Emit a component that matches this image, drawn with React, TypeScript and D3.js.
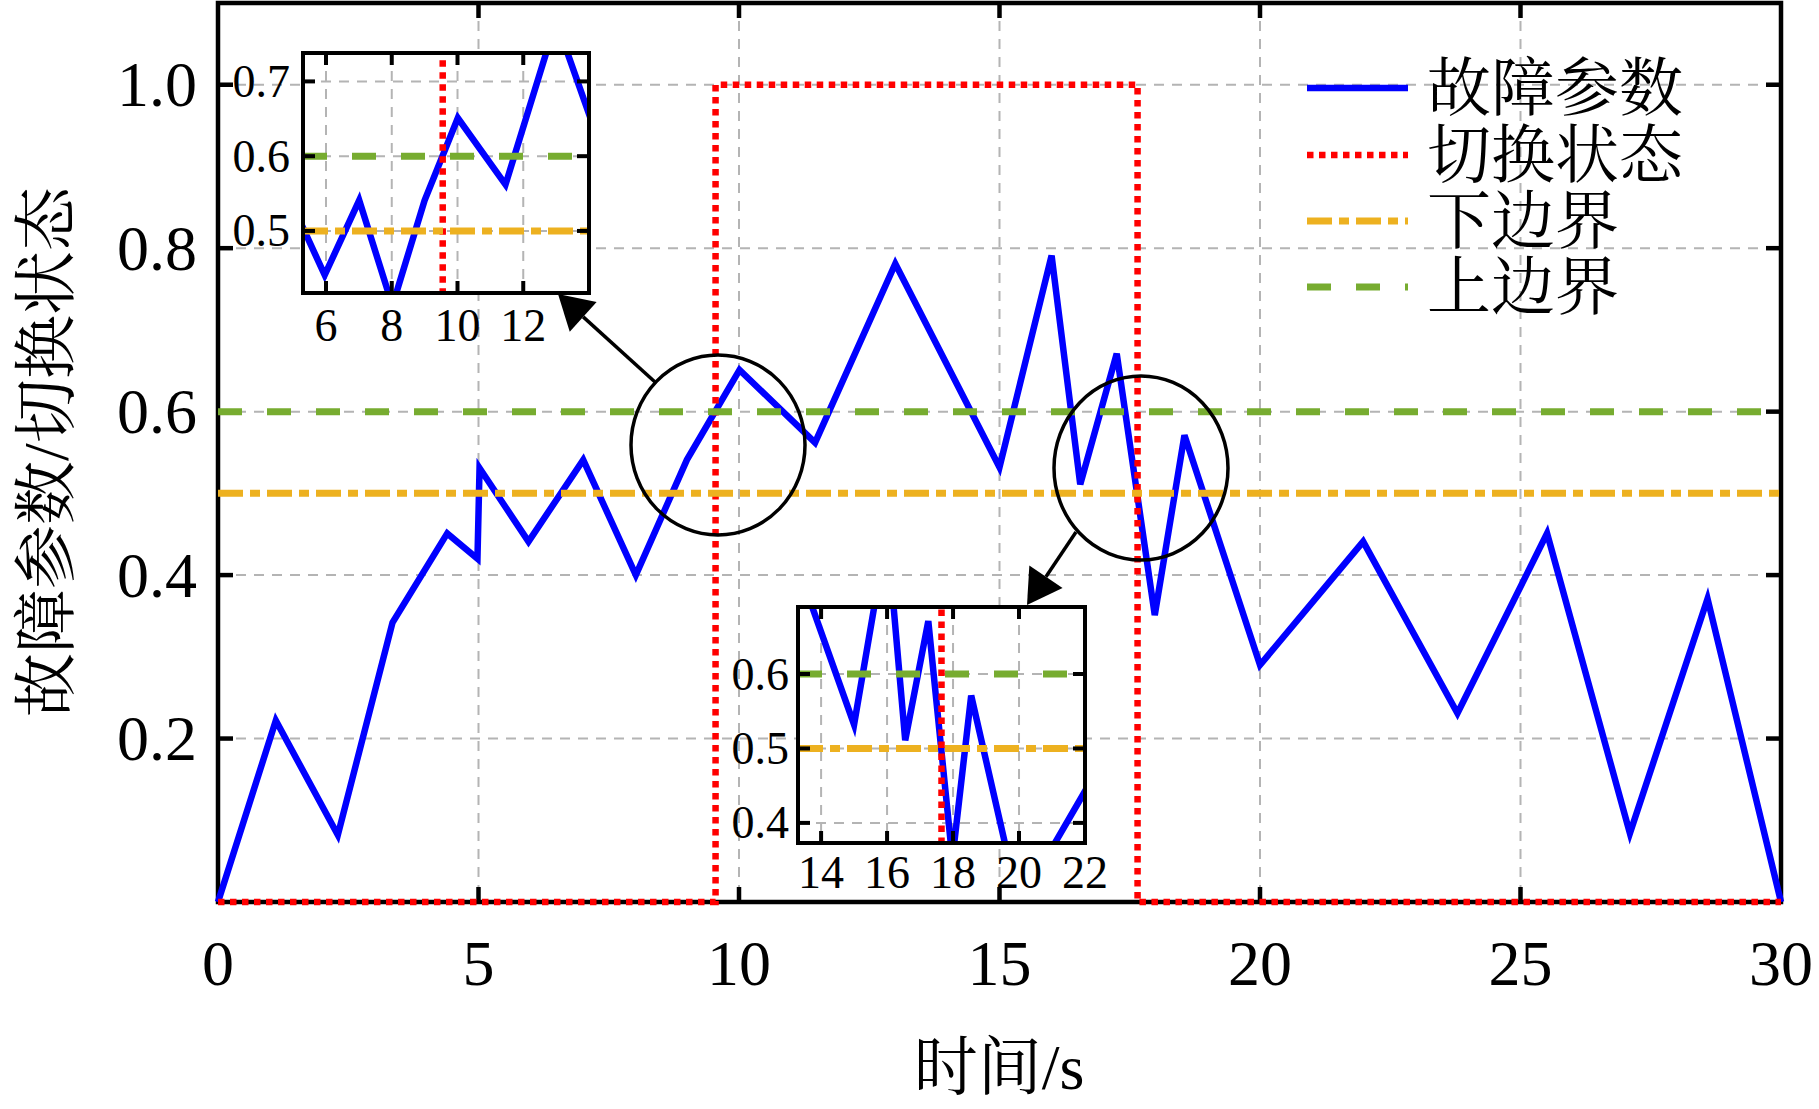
import * as d3 from "d3";

// fault parameter series (time in s, value)
const timeS = [0, 1.11, 2.3, 3.35, 4.4, 4.98, 5.02, 5.96, 7.01, 8.02, 9.0, 10.01, 11.46, 13.0, 15.0, 16.0, 16.55, 17.25, 17.98, 18.55, 20.0, 21.98, 23.79, 25.51, 27.1, 28.59, 30];
const faultParam = [0, 0.222, 0.082, 0.342, 0.451, 0.42, 0.531, 0.441, 0.541, 0.4, 0.541, 0.651, 0.562, 0.781, 0.532, 0.791, 0.511, 0.671, 0.351, 0.571, 0.29, 0.441, 0.231, 0.451, 0.084, 0.371, 0];

// switching state (step signal)
const switchTime = [0, 9.55, 9.55, 17.65, 17.65, 30];
const switchState = [0, 0, 1, 1, 0, 0];

const lowerBound = 0.5;
const upperBound = 0.6;

const xTicks = [0, 5, 10, 15, 20, 25, 30];
const yTicks = [0.2, 0.4, 0.6, 0.8, 1.0];
const inset1XTicks = [6, 8, 10, 12];
const inset1YTicks = [0.5, 0.6, 0.7];
const inset2XTicks = [14, 16, 18, 20, 22];
const inset2YTicks = [0.4, 0.5, 0.6];

const legendLabels = ["故障参数", "切换状态", "下边界", "上边界"];
const xTitle = "时间/s";
const yTitle = "故障参数/切换状态";

const W = 1819;
const H = 1109;
const FONT = '"Liberation Serif", "Times New Roman", "Noto Serif CJK SC", "Noto Sans CJK SC", serif';

const BLUE = "#0000ff";
const RED = "#ff0000";
const ORANGE = "#edb120";
const GREEN = "#77ac30";
const GRID = "#b4b4b4";

const RED_DASH = "6.5 5.5";
const ORANGE_DASH = "25 7 10 7";
const GREEN_DASH = "24 25";

const faultPts = timeS.map((t, i) => [t, faultParam[i]] as [number, number]);
const switchPts = switchTime.map((t, i) => [t, switchState[i]] as [number, number]);

type PanelProps = {
  id: string;
  left: number; right: number; top: number; bottom: number;
  xDomain: [number, number]; yDomain: [number, number];
  xTicks: number[]; yTicks: number[];
  yFmt: (v: number) => string;
  fontSize: number; tickLen: number; frame: number;
  xLabelY: number; yLabelX: number;
  inset?: boolean;
};

function Panel(p: PanelProps) {
  const x = d3.scaleLinear().domain(p.xDomain).range([p.left, p.right]);
  const y = d3.scaleLinear().domain(p.yDomain).range([p.bottom, p.top]);
  const line = d3.line<[number, number]>().x(d => x(d[0])).y(d => y(d[1]));
  const pad = p.inset ? 0 : 4;
  const innerX = p.xTicks.filter(v => x(v) > p.left + 2 && x(v) < p.right - 2);
  const innerY = p.yTicks.filter(v => y(v) < p.bottom - 2 && y(v) > p.top + 2);

  const frame = (
    <g>
      <rect x={p.left} y={p.top} width={p.right - p.left} height={p.bottom - p.top}
        fill="none" stroke="#000" strokeWidth={p.frame} />
      {innerX.map(v => (
        <g key={"xt" + v}>
          <line x1={x(v)} x2={x(v)} y1={p.bottom} y2={p.bottom - p.tickLen} stroke="#000" strokeWidth={p.frame} />
          <line x1={x(v)} x2={x(v)} y1={p.top} y2={p.top + p.tickLen} stroke="#000" strokeWidth={p.frame} />
        </g>
      ))}
      {innerY.map(v => (
        <g key={"yt" + v}>
          <line x1={p.left} x2={p.left + p.tickLen} y1={y(v)} y2={y(v)} stroke="#000" strokeWidth={p.frame} />
          <line x1={p.right} x2={p.right - p.tickLen} y1={y(v)} y2={y(v)} stroke="#000" strokeWidth={p.frame} />
        </g>
      ))}
    </g>
  );

  const data = (
    <g clipPath={`url(#${p.id})`}>
      <path d={line(faultPts) as string} fill="none" stroke={BLUE} strokeWidth={6.5} strokeLinejoin="miter" />
      <path d={line(switchPts) as string} fill="none" stroke={RED} strokeWidth={6.5} strokeDasharray={RED_DASH} />
      <path d={line([[p.xDomain[0], lowerBound], [p.xDomain[1], lowerBound]]) as string}
        fill="none" stroke={ORANGE} strokeWidth={7} strokeDasharray={ORANGE_DASH} />
      <path d={line([[p.xDomain[0], upperBound], [p.xDomain[1], upperBound]]) as string}
        fill="none" stroke={GREEN} strokeWidth={7} strokeDasharray={GREEN_DASH} />
    </g>
  );

  return (
    <g>
      <defs>
        <clipPath id={p.id}>
          <rect x={p.left - pad} y={p.top - pad} width={p.right - p.left + 2 * pad} height={p.bottom - p.top + 2 * pad} />
        </clipPath>
      </defs>
      {p.inset && <rect x={p.left} y={p.top} width={p.right - p.left} height={p.bottom - p.top} fill="#fff" />}
      <g stroke={GRID} strokeWidth={2} strokeDasharray="10 8">
        {innerX.map(v => <line key={"gx" + v} x1={x(v)} x2={x(v)} y1={p.top} y2={p.bottom} />)}
        {innerY.map(v => <line key={"gy" + v} x1={p.left} x2={p.right} y1={y(v)} y2={y(v)} />)}
      </g>
      {p.inset ? data : frame}
      {p.inset ? frame : data}
      <g fontFamily={FONT} fontSize={p.fontSize} fill="#000">
        {p.xTicks.map(v => (
          <text key={"xl" + v} x={x(v)} y={p.xLabelY} textAnchor="middle">{String(v)}</text>
        ))}
        {p.yTicks.map(v => (
          <text key={"yl" + v} x={p.yLabelX} y={y(v)} textAnchor="end" dominantBaseline="central">{p.yFmt(v)}</text>
        ))}
      </g>
    </g>
  );
}

function Arrow({ x1, y1, x2, y2 }: { x1: number; y1: number; x2: number; y2: number }) {
  const dx = x2 - x1, dy = y2 - y1;
  const len = Math.hypot(dx, dy);
  const ux = dx / len, uy = dy / len;
  const head = 34, half = 20;
  const bx = x2 - ux * head, by = y2 - uy * head;
  const pts = [
    [x2, y2],
    [bx - uy * half, by + ux * half],
    [bx + uy * half, by - ux * half],
  ];
  return (
    <g>
      <line x1={x1} y1={y1} x2={bx} y2={by} stroke="#000" strokeWidth={3.5} />
      <polygon points={pts.map(q => q.join(",")).join(" ")} fill="#000" />
    </g>
  );
}

export default function App() {
  const legendX0 = 1307, legendX1 = 1408, legendTextX = 1427;
  const legendY = [88, 155, 221, 287];
  const legendStyles = [
    { stroke: BLUE, w: 6.5, dash: "none" },
    { stroke: RED, w: 6.5, dash: RED_DASH },
    { stroke: ORANGE, w: 7, dash: ORANGE_DASH },
    { stroke: GREEN, w: 7, dash: GREEN_DASH },
  ];
  return (
    <svg width={W} height={H} viewBox={`0 0 ${W} ${H}`}
      style={{ position: "absolute", left: 0, top: 0, background: "#fff" }}>
      <rect x={0} y={0} width={W} height={H} fill="#fff" />
      <Panel id="clip-main" left={218} right={1781} top={3} bottom={902}
        xDomain={[0, 30]} yDomain={[0, 1.1]} xTicks={xTicks} yTicks={yTicks}
        yFmt={v => v.toFixed(1)} fontSize={64} tickLen={15} frame={4.5}
        xLabelY={985} yLabelX={197} />

      {/* legend */}
      <g fontFamily={FONT} fontSize={64}>
        {legendLabels.map((lab, i) => (
          <g key={lab}>
            <line x1={legendX0} x2={legendX1} y1={legendY[i]} y2={legendY[i]}
              stroke={legendStyles[i].stroke} strokeWidth={legendStyles[i].w}
              strokeDasharray={legendStyles[i].dash} />
            <text x={legendTextX} y={legendY[i]} dominantBaseline="central">{lab}</text>
          </g>
        ))}
      </g>

      {/* zoom markers */}
      <ellipse cx={718} cy={445} rx={87} ry={90} fill="none" stroke="#000" strokeWidth={3.5} />
      <ellipse cx={1141} cy={468} rx={87} ry={92} fill="none" stroke="#000" strokeWidth={3.5} />
      <Arrow x1={655} y1={382} x2={558} y2={294} />
      <Arrow x1={1076} y1={532} x2={1027} y2={605} />

      <Panel id="clip-in1" inset left={303} right={589} top={53} bottom={293}
        xDomain={[5.3, 14]} yDomain={[0.417, 0.738]} xTicks={inset1XTicks} yTicks={inset1YTicks}
        yFmt={v => v.toFixed(1)} fontSize={46} tickLen={12} frame={4}
        xLabelY={341} yLabelX={290} />
      <Panel id="clip-in2" inset left={798} right={1085} top={607} bottom={843}
        xDomain={[13.3, 22]} yDomain={[0.373, 0.69]} xTicks={inset2XTicks} yTicks={inset2YTicks}
        yFmt={v => v.toFixed(1)} fontSize={46} tickLen={12} frame={4}
        xLabelY={888} yLabelX={789} />

      {/* axis titles */}
      <text x={999} y={1067} fontFamily={FONT} fontSize={64} textAnchor="middle" dominantBaseline="central">{xTitle}</text>
      <text transform="translate(46,452) rotate(-90)" fontFamily={FONT} fontSize={64} textAnchor="middle" dominantBaseline="central">{yTitle}</text>
    </svg>
  );
}
